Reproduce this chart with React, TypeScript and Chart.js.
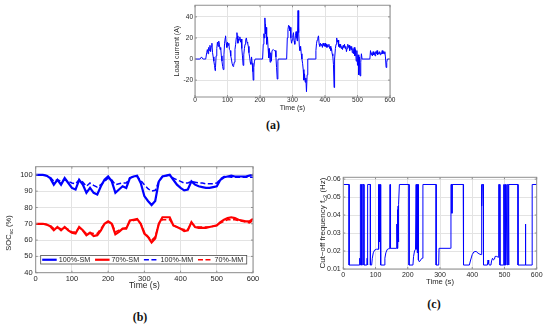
import React, { useEffect, useRef } from 'react';
import { Chart, registerables } from 'chart.js';

Chart.register(...registerables);

const FONT = '"Liberation Sans", Arial, Helvetica, sans-serif';
const BLUE = '#0000ff';
const RED = '#ff0000';
const GRID = '#e3e3e3';
const FRAME = '#8f8f8f';
const TEXT = '#262626';

// ---------------- data ----------------
const timeTicks = [0, 100, 200, 300, 400, 500, 600];
const loadTicks = [-20, 0, 20, 40];
const socTicks = [40, 50, 60, 70, 80, 90, 100];
const freqTicks = [0.01, 0.02, 0.03, 0.04, 0.05, 0.06];

// (a) load current
const loadTime = [
  0, 15, 18, 20, 22, 25, 33, 36, 38, 40,
  42, 44, 46, 48, 50, 52, 54, 56, 58, 60,
  62, 63, 65, 67, 69, 71, 73, 75, 77, 79,
  81, 83, 85, 87, 89, 91, 93, 94, 96, 98,
  100, 102, 104, 106, 108, 110, 112, 114, 117, 119,
  121, 123, 125, 127, 129, 130, 132, 134, 136, 138,
  140, 142, 144, 146, 148, 150, 152, 154, 156, 158,
  160, 162, 164, 166, 168, 170, 172, 174, 176, 178,
  179, 181, 183, 185, 208, 210, 212, 213, 215, 216,
  217, 219, 220, 221, 223, 225, 227, 229, 231, 233,
  235, 237, 239, 241, 244, 247, 249, 251, 253, 255,
  256, 282, 284, 286, 288, 290, 291, 293, 295, 297,
  299, 301, 303, 305, 307, 309, 311, 313, 315, 317,
  319, 321, 323, 325, 327, 329, 331, 333, 335, 337,
  339, 341, 343, 345, 347, 370, 372, 374, 376, 378,
  380, 382, 384, 386, 388, 390, 392, 394, 396, 398,
  400, 402, 404, 406, 408, 410, 412, 414, 416, 418,
  420, 422, 424, 426, 428, 429, 430, 432, 434, 436,
  438, 440, 442, 444, 446, 448, 450, 452, 454, 456,
  458, 460, 462, 464, 466, 468, 470, 472, 474, 476,
  478, 480, 482, 484, 486, 488, 490, 492, 494, 496,
  498, 500, 502, 504, 506, 508, 510, 512, 514, 538,
  540, 542, 544, 546, 548, 550, 552, 554, 556, 558,
  560, 562, 564, 566, 568, 570, 572, 574, 576, 578,
  580, 582, 584, 586, 588, 590, 592, 600,
];
const loadCurrent = [
  0, 0, 1, 2, 1, 0, 0, 6, 9, 5,
  11, 8, 13, 7, 12, 15, 6, 2, -2, -6,
  -11, -8, 3, 10, 16, 12, 17, 14, 9, 11,
  3, -2, -7, -10, 4, 15, 20, 22, 15, 11,
  16, 13, 15, 9, 8, 3, 0, -4, -7, -6,
  -3, 9, 14, 20, 25, 22, 15, 19, 18, 21,
  16, 19, 10, 3, -6, 4, 10, 14, 18, 20,
  16, 15, 12, 6, 2, -3, -5, 2, -4, -12,
  -20, -8, -2, 0, 0, 14, 24, 20, 39, 33,
  24, 30, 22, 14, 21, 10, 1, 10, -3, 6,
  -2, 8, 8, 9, 8, 8, 2, -8, -19, -2,
  0, 0, 20, 28, 32, 31, 27, 30, 20, 15,
  18, 22, 25, 17, 14, 22, 26, 20, 17, 46,
  25, 12, 8, 12, 5, 0, -4, -10, -20, -14,
  -22, -18, -31, -15, 0, 0, 8, 15, 18, 20,
  22, 14, 12, 15, 13, 14, 11, 15, 13, 12,
  15, 12, 14, 11, 13, 12, 14, 10, 12, 8,
  10, 5, 3, -5, -27, -15, 0, 10, 14, 20,
  16, 18, 12, 14, 11, 14, 10, 12, 9, 13,
  11, 14, 10, 12, 7, 10, 14, 11, 13, 8,
  12, 9, 12, 6, 10, 5, 11, 3, 9, -2,
  8, -6, 4, -15, 2, -16, -3, 5, 0, 0,
  8, 4, 6, 3, 7, 4, 6, 3, 7, 5,
  8, 4, 6, 5, 7, 4, 6, 5, 8, 5,
  7, 5, 7, 2, -8, -3, 0, 0,
];

// (b) SOC
const socTime = [
  0, 10, 20, 30, 40, 50, 60, 70, 80, 90,
  100, 110, 120, 130, 140, 150, 160, 170, 180, 190,
  200, 210, 220, 230, 240, 250, 260, 270, 280, 290,
  300, 310, 320, 330, 340, 350, 360, 370, 380, 390,
  400, 410, 420, 430, 440, 450, 460, 470, 480, 490,
  500, 510, 520, 530, 540, 550, 560, 570, 580, 590,
  600,
];
const soc100SM = [
  100, 100, 100, 99.5, 98, 94, 97, 94, 98, 95,
  92, 91, 97, 94, 89, 92, 89, 88, 93, 97,
  99, 96, 89, 91, 93, 92, 98, 99, 99.5, 95,
  87, 84, 81.5, 84, 96, 99, 99.5, 100, 97, 94,
  92, 90.5, 91, 96, 94, 93, 92.5, 92, 92, 92.5,
  93, 97, 98.5, 99, 99.5, 99, 99, 99, 99, 99.5,
  100,
];
const soc70SM = [
  70, 70, 70, 69.5, 68.5, 66, 68, 66, 68, 66,
  64.5, 64, 68, 66, 63, 64.5, 62.5, 63, 66, 70,
  71.5, 70, 63.5, 65, 67, 67, 72, 72.5, 73, 70,
  64, 62, 58.5, 61, 70, 74, 74, 74, 69, 68,
  67, 65.5, 66, 71, 68, 67.5, 67.5, 67.5, 68, 68.5,
  69, 71, 72.5, 73.5, 74, 73.5, 72.5, 72, 71.5, 71.5,
  73,
];
const soc100MM = [
  100, 100, 100, 99.5, 98.5, 96, 97, 96, 97, 96,
  95, 94.5, 97, 95.5, 93, 95, 93.5, 92.5, 94, 96,
  98, 97, 94, 94.5, 95, 95, 98, 99, 99, 96.5,
  94, 91.5, 90, 90.5, 96, 99, 99.5, 100, 98, 97,
  96, 95, 95, 96, 95.5, 95, 95, 94.5, 94.5, 94.5,
  95, 97.5, 99, 99, 98.5, 98.5, 98.5, 98.5, 98.5, 98.5,
  98.5,
];
const soc70MM = [
  70, 70, 70, 69.5, 69, 67, 67.5, 67, 67.5, 66.5,
  65, 65, 67.5, 66, 64, 64.5, 64, 64, 67, 70,
  71, 70.5, 65, 66, 67, 67.5, 71.5, 72, 72.5, 70,
  65, 62, 60, 62, 70, 72.5, 72.5, 72.5, 69, 68,
  67, 66.5, 66.5, 70.5, 68.5, 68, 68, 68, 68, 68.5,
  69, 70.5, 71.5, 72.5, 72.5, 72.5, 72, 71.5, 71, 70.5,
  72,
];
const socLabels = ['100%-SM', '70%-SM', '100%-MM', '70%-MM'];

// (c) cut-off frequency
const freqTime = [
  0, 18, 18, 50, 51, 52, 53, 53, 56, 56,
  59, 59, 64, 64, 73, 74, 75, 76, 84, 84,
  88, 90, 93, 97, 103, 108, 109, 110, 111, 112,
  113, 115, 116, 127, 129, 132, 136, 141, 144, 145,
  146, 147, 165, 166, 167, 168, 169, 170, 171, 172,
  174, 204, 204, 216, 218, 221, 224, 226, 227, 229,
  230, 232, 233, 236, 240, 244, 246, 247, 288, 288,
  296, 297, 333, 334, 337, 337, 338, 372, 373, 391,
  395, 400, 405, 412, 418, 424, 428, 428, 430, 430,
  431, 434, 435, 447, 449, 451, 453, 458, 460, 463,
  466, 469, 471, 476, 481, 482, 485, 486, 497, 498,
  499, 501, 502, 503, 504, 505, 507, 508, 509, 512,
  512, 514, 514, 542, 542, 565, 565, 566, 586, 586,
  600,
];
const freqValue = [
  0.057, 0.057, 0.0122, 0.0122, 0.016, 0.0122, 0.0122, 0.057, 0.057, 0.0122,
  0.0122, 0.057, 0.057, 0.0122, 0.0122, 0.016, 0.0122, 0.057, 0.057, 0.0122,
  0.0122, 0.016, 0.019, 0.0205, 0.021, 0.021, 0.057, 0.021, 0.057, 0.025,
  0.057, 0.057, 0.0122, 0.0122, 0.016, 0.019, 0.0208, 0.0213, 0.0213, 0.057,
  0.044, 0.0215, 0.0215, 0.035, 0.0215, 0.043, 0.0215, 0.045, 0.025, 0.046,
  0.057, 0.057, 0.0122, 0.0122, 0.017, 0.02, 0.021, 0.057, 0.021, 0.057,
  0.019, 0.057, 0.015, 0.014, 0.015, 0.016, 0.016, 0.057, 0.057, 0.0122,
  0.0122, 0.0215, 0.0215, 0.057, 0.057, 0.041, 0.057, 0.057, 0.0122, 0.0122,
  0.015, 0.018, 0.0195, 0.0198, 0.0188, 0.0182, 0.018, 0.057, 0.057, 0.045,
  0.057, 0.057, 0.0122, 0.0122, 0.015, 0.013, 0.0122, 0.0122, 0.0145, 0.016,
  0.015, 0.0155, 0.017, 0.017, 0.0165, 0.057, 0.057, 0.0122, 0.0122, 0.057,
  0.0122, 0.057, 0.0122, 0.057, 0.0122, 0.057, 0.057, 0.0122, 0.057, 0.057,
  0.0122, 0.0122, 0.057, 0.057, 0.0122, 0.0122, 0.035, 0.0122, 0.0122, 0.057,
  0.057,
];

// ---------------- helpers ----------------
const pts = (xs: number[], ys: number[]) => xs.map((x, i) => ({ x, y: ys[i] }));

function axis(o: {
  ticks: number[]; min: number; max: number; horizontal: boolean; size: number;
  tickSize: number; tickPad: number; title?: string; titleSize?: number; titlePad?: any; fmt?: (v: any) => string;
}) {
  return {
    type: 'linear',
    min: o.min,
    max: o.max,
    afterBuildTicks: (s: any) => { s.ticks = o.ticks.map((v) => ({ value: v })); },
    afterFit: (s: any) => { if (o.horizontal) s.height = o.size; else s.width = o.size; },
    grid: { color: GRID, lineWidth: 1, drawTicks: false },
    border: { display: false },
    ticks: {
      font: { family: FONT, size: o.tickSize, lineHeight: 1 },
      color: TEXT,
      padding: o.tickPad,
      maxRotation: 0,
      autoSkip: false,
      callback: o.fmt ? o.fmt : (v: any) => String(v),
    },
    title: o.title
      ? { display: true, text: o.title, color: TEXT, font: { family: FONT, size: o.titleSize }, padding: o.titlePad }
      : { display: false },
  };
}

const framePlugin = {
  id: 'matlabFrame',
  afterDatasetsDraw(chart: any) {
    const { ctx, chartArea: a, scales } = chart;
    ctx.save();
    ctx.strokeStyle = FRAME;
    ctx.lineWidth = 1;
    ctx.beginPath();
    const tl = 2;
    for (const t of scales.x.ticks) {
      const p = scales.x.getPixelForValue(t.value);
      ctx.moveTo(p, a.bottom); ctx.lineTo(p, a.bottom - tl);
      ctx.moveTo(p, a.top); ctx.lineTo(p, a.top + tl);
    }
    for (const t of scales.y.ticks) {
      const p = scales.y.getPixelForValue(t.value);
      ctx.moveTo(a.left, p); ctx.lineTo(a.left + tl, p);
      ctx.moveTo(a.right, p); ctx.lineTo(a.right - tl, p);
    }
    ctx.stroke();
    ctx.strokeRect(a.left, a.top, a.right - a.left, a.bottom - a.top);
    ctx.restore();
  },
};

type Part = { text: string; sub?: boolean };
function richTitle(parts: Part[], x: number, y: number, size: number) {
  return {
    id: 'richTitle',
    afterDraw(chart: any) {
      const { ctx } = chart;
      const subSize = size * 0.72;
      ctx.save();
      ctx.translate(x, y);
      ctx.rotate(-Math.PI / 2);
      ctx.fillStyle = TEXT;
      ctx.textBaseline = 'alphabetic';
      ctx.textAlign = 'left';
      const widths = parts.map((p) => {
        ctx.font = `${p.sub ? subSize : size}px ${FONT}`;
        return ctx.measureText(p.text).width;
      });
      const total = widths.reduce((s, w) => s + w, 0);
      let cx = -total / 2;
      const base = size * 0.36;
      parts.forEach((p, i) => {
        ctx.font = `${p.sub ? subSize : size}px ${FONT}`;
        ctx.fillText(p.text, cx, p.sub ? base + size * 0.25 : base);
        cx += widths[i];
      });
      ctx.restore();
    },
  };
}

function insideLegend(dx: number, dyBottom: number, h: number, fontSize: number) {
  return {
    id: 'insideLegend',
    afterDraw(chart: any) {
      const { ctx, chartArea: a } = chart;
      const ds = chart.data.datasets;
      const sample = 14.5, gapS = 2, gapT = 4.8, padL = 1.5, padR = 3.5;
      ctx.save();
      ctx.font = `${fontSize}px ${FONT}`;
      const widths = ds.map((d: any) => ctx.measureText(d.label).width);
      let total = padL + padR;
      widths.forEach((w: number, i: number) => { total += sample + gapS + w + (i < ds.length - 1 ? gapT : 0); });
      const x0 = a.left + dx;
      const y1 = a.bottom - dyBottom;
      const y0 = y1 - h;
      ctx.fillStyle = '#ffffff';
      ctx.fillRect(x0, y0, total, h);
      ctx.strokeStyle = '#4d4d4d';
      ctx.lineWidth = 0.8;
      ctx.strokeRect(x0, y0, total, h);
      const cy = y0 + h / 2;
      let x = x0 + padL;
      ds.forEach((d: any, i: number) => {
        ctx.beginPath();
        ctx.strokeStyle = d.borderColor;
        ctx.lineWidth = d.borderWidth;
        ctx.setLineDash(d.borderDash || []);
        ctx.moveTo(x, cy);
        ctx.lineTo(x + sample, cy);
        ctx.stroke();
        ctx.setLineDash([]);
        x += sample + gapS;
        ctx.fillStyle = TEXT;
        ctx.textBaseline = 'middle';
        ctx.textAlign = 'left';
        ctx.fillText(d.label, x, cy + 0.5);
        x += widths[i] + gapT;
      });
      ctx.restore();
    },
  };
}

const baseOptions = {
  responsive: false,
  animation: false,
  devicePixelRatio: 1,
  events: [],
};

// ---------------- configs ----------------
function makeLoadConfig(): any {
  return {
    type: 'line',
    data: {
      datasets: [{
        label: 'Load current (A)', data: pts(loadTime, loadCurrent),
        borderColor: BLUE, borderWidth: 1, pointRadius: 0, tension: 0, fill: false,
      }],
    },
    options: {
      ...baseOptions,
      layout: { padding: { left: 0, top: 5, right: 10, bottom: 0 } },
      plugins: { legend: { display: false }, tooltip: { enabled: false } },
      scales: {
        x: axis({ ticks: timeTicks, min: 0, max: 600, horizontal: true, size: 21, tickSize: 6.5, tickPad: 0,
          title: 'Time (s)', titleSize: 7, titlePad: { top: 0, bottom: 5.5 } }),
        y: axis({ ticks: loadTicks, min: -36, max: 51, horizontal: false, size: 35, tickSize: 6.5, tickPad: 2,
          title: 'Load current (A)', titleSize: 7, titlePad: { top: 12.5, bottom: 0 } }),
      },
    },
    plugins: [framePlugin],
  };
}

function makeSocConfig(): any {
  const line = (label: string, ys: number[], color: string, width: number, dash: number[]) => ({
    label, data: pts(socTime, ys), borderColor: color, borderWidth: width, borderDash: dash,
    pointRadius: 0, tension: 0, fill: false,
  });
  return {
    type: 'line',
    data: {
      datasets: [
        line(socLabels[0], soc100SM, BLUE, 2.2, []),
        line(socLabels[1], soc70SM, RED, 2.2, []),
        line(socLabels[2], soc100MM, BLUE, 1.5, [5, 2.5]),
        line(socLabels[3], soc70MM, RED, 1.5, [5, 2.5]),
      ],
    },
    options: {
      ...baseOptions,
      layout: { padding: { left: 0, top: 11.7, right: 9, bottom: 0 } },
      plugins: { legend: { display: false }, tooltip: { enabled: false } },
      scales: {
        x: axis({ ticks: timeTicks, min: 0, max: 600, horizontal: true, size: 22.3, tickSize: 7.5, tickPad: 2,
          title: 'Time (s)', titleSize: 8.5, titlePad: { top: 0, bottom: 4.2 } }),
        y: axis({ ticks: socTicks, min: 40, max: 105, horizontal: false, size: 35.7, tickSize: 7.5, tickPad: 3 }),
      },
    },
    plugins: [
      framePlugin,
      insideLegend(5, 8.7, 8.5, 7.2),
      richTitle([{ text: 'SOC' }, { text: 'sc', sub: true }, { text: ' (%)' }], 8.3, 78, 7.5),
    ],
  };
}

function makeFreqConfig(): any {
  return {
    type: 'line',
    data: {
      datasets: [{
        label: 'Cut-off frequency', data: pts(freqTime, freqValue),
        borderColor: BLUE, borderWidth: 1, pointRadius: 0, tension: 0, fill: false,
      }],
    },
    options: {
      ...baseOptions,
      layout: { padding: { left: 0, top: 12.3, right: 13.3, bottom: 0 } },
      plugins: { legend: { display: false }, tooltip: { enabled: false } },
      scales: {
        x: axis({ ticks: timeTicks, min: 0, max: 600, horizontal: true, size: 21, tickSize: 7, tickPad: 2.5,
          title: 'Time (s)', titleSize: 7.7, titlePad: { top: 0, bottom: 3.7 } }),
        y: axis({ ticks: freqTicks, min: 0.01, max: 0.061, horizontal: false, size: 43.3, tickSize: 7, tickPad: 2.6,
          fmt: (v: any) => Number(v).toFixed(2) }),
      },
    },
    plugins: [
      framePlugin,
      richTitle([{ text: 'Cut\u2212off frequency f' }, { text: 'c2', sub: true }, { text: ' (Hz)' }], 21.7, 58, 8),
    ],
  };
}

// ---------------- components ----------------
function ChartBox(props: { left: number; top: number; width: number; height: number; make: () => any }) {
  const ref = useRef<HTMLCanvasElement | null>(null);
  useEffect(() => {
    if (!ref.current) return;
    const chart = new Chart(ref.current, props.make());
    return () => chart.destroy();
  }, []);
  return (
    <canvas
      ref={ref}
      width={props.width}
      height={props.height}
      style={{ position: 'absolute', left: props.left, top: props.top, width: props.width, height: props.height }}
    />
  );
}

function PanelLabel(props: { x: number; y: number; text: string }) {
  return (
    <div
      style={{
        position: 'absolute', left: props.x, top: props.y, transform: 'translate(-50%, -50%)',
        font: 'bold 12px "Liberation Serif", "Times New Roman", serif', color: '#111', lineHeight: 1,
        whiteSpace: 'nowrap',
      }}
    >
      {props.text}
    </div>
  );
}

export default function App() {
  return (
    <div style={{ position: 'absolute', left: 0, top: 0, width: 550, height: 328, background: '#ffffff', overflow: 'hidden' }}>
      <ChartBox left={160} top={0} width={240} height={118} make={makeLoadConfig} />
      <ChartBox left={0} top={155} width={262} height={140} make={makeSocConfig} />
      <ChartBox left={300} top={165} width={250} height={125} make={makeFreqConfig} />
      <PanelLabel x={273} y={125} text="(a)" />
      <PanelLabel x={140} y={317} text="(b)" />
      <PanelLabel x={434} y={304} text="(c)" />
    </div>
  );
}
